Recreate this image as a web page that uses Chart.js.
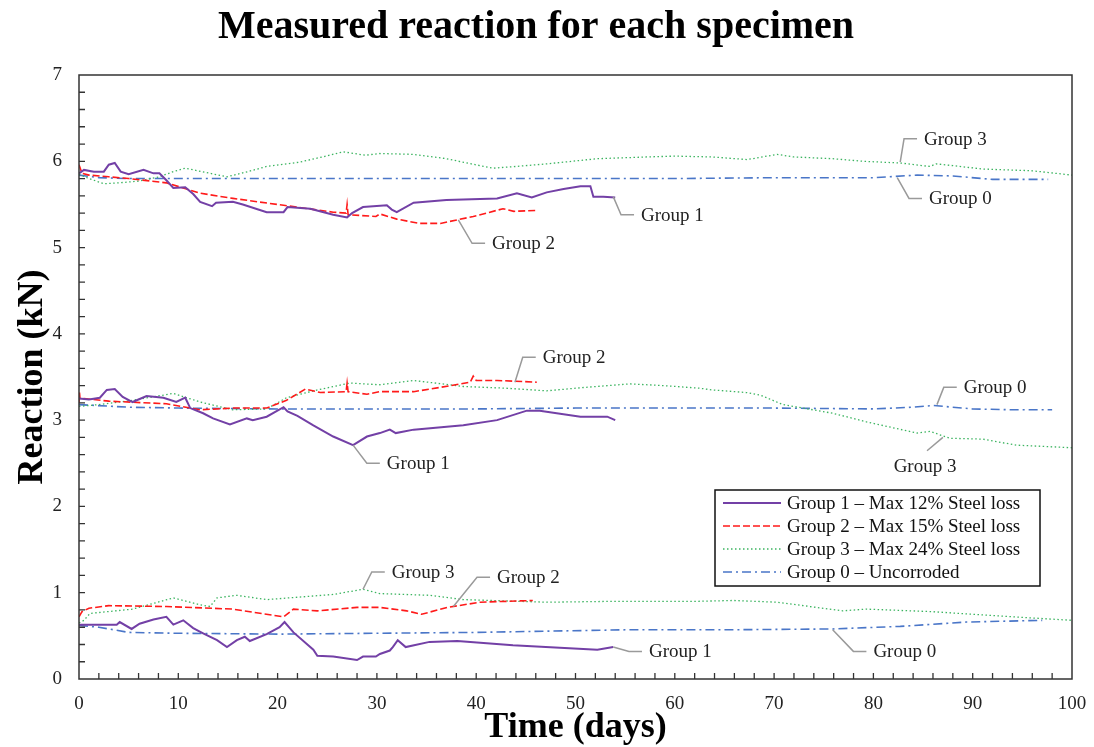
<!DOCTYPE html>
<html>
<head>
<meta charset="utf-8">
<title>Measured reaction for each specimen</title>
<script src="https://cdn.jsdelivr.net/npm/chart.js@4/dist/chart.umd.min.js"></script>
<style>
  html, body { margin: 0; padding: 0; background: #fff; }
  #wrap { width: 1094px; height: 747px; position: relative; }
</style>
</head>
<body>
<div id="wrap"><canvas id="c"></canvas></div>
<script>
/* ---- DATA -------------------------------------------------- */
// upper set (~6 kN)
const g1UpDays = [0, 0.5, 1.5, 2.5, 3, 3.6, 4.2, 5, 6.5, 7.5, 8.1, 8.8, 9.5, 10.7, 11.5, 12.2, 13.4, 13.8, 15.5, 16.5, 18.9, 20.6, 21, 23.3, 25.6, 27, 27.5, 28.6, 31, 31.5, 32, 33.7, 37, 42.1, 44.1, 45.6, 47.1, 48.8, 50.5, 51.5, 51.8, 52.8, 54];
const g1UpKN   = [5.86, 5.9, 5.88, 5.88, 5.96, 5.98, 5.88, 5.85, 5.9, 5.86, 5.86, 5.78, 5.69, 5.70, 5.62, 5.53, 5.48, 5.52, 5.53, 5.50, 5.41, 5.41, 5.47, 5.45, 5.38, 5.35, 5.40, 5.47, 5.49, 5.44, 5.41, 5.52, 5.55, 5.57, 5.63, 5.58, 5.64, 5.68, 5.71, 5.71, 5.59, 5.59, 5.58];
const g2UpDays = [0, 0.3, 1, 3, 5, 8.8, 12.2, 15.5, 20.6, 25.6, 26.9, 27.0, 27.1, 27.3, 29.9, 30.3, 32, 34.3, 36.4, 39.7, 42.7, 43.8, 46];
const g2UpKN   = [5.96, 5.86, 5.84, 5.82, 5.80, 5.75, 5.63, 5.57, 5.49, 5.41, 5.40, 5.50, 5.38, 5.38, 5.36, 5.39, 5.33, 5.28, 5.28, 5.36, 5.45, 5.42, 5.43];
const g3UpDays = [0, 1, 2.5, 4, 6, 8.1, 9.5, 10.7, 12.8, 14.9, 17, 18.9, 22.2, 24.5, 26.6, 28.8, 30.3, 33.7, 37, 39.5, 41.7, 44, 47.1, 52.2, 57.2, 60, 63.8, 67.3, 70.3, 72, 75.9, 79, 82.7, 85.7, 86.3, 88, 91, 96, 100];
const g3UpKN   = [5.85, 5.80, 5.74, 5.75, 5.77, 5.82, 5.88, 5.92, 5.87, 5.82, 5.88, 5.94, 5.99, 6.05, 6.11, 6.07, 6.09, 6.08, 6.03, 5.97, 5.92, 5.94, 5.97, 6.03, 6.05, 6.06, 6.05, 6.02, 6.08, 6.05, 6.03, 6.00, 5.98, 5.94, 5.97, 5.95, 5.91, 5.89, 5.84];
const g0UpDays = [0, 2, 5, 10, 20, 30, 40, 50, 60, 70, 80, 84.4, 88, 92, 97.6];
const g0UpKN   = [5.84, 5.81, 5.80, 5.80, 5.80, 5.80, 5.80, 5.80, 5.80, 5.81, 5.81, 5.84, 5.83, 5.79, 5.79];

// middle set (~3 kN)
const g1MidDays = [0, 1, 2.1, 2.8, 3.6, 4.4, 5.4, 6.8, 8.5, 9.8, 10.7, 11.2, 12.5, 13.5, 15.2, 16.9, 17.5, 18.9, 20.6, 21, 22, 23.6, 25.6, 27.6, 29, 30.3, 31.3, 31.9, 33.7, 38.7, 42.1, 45.1, 46.4, 50.5, 53.2, 54];
const g1MidKN   = [3.25, 3.24, 3.26, 3.35, 3.36, 3.27, 3.21, 3.28, 3.26, 3.21, 3.26, 3.14, 3.08, 3.02, 2.95, 3.02, 3.00, 3.04, 3.15, 3.10, 3.05, 2.94, 2.81, 2.71, 2.81, 2.85, 2.89, 2.85, 2.89, 2.94, 3.00, 3.11, 3.11, 3.04, 3.04, 3.00];
const g2MidDays = [0, 0.05, 0.1, 0.5, 3, 8.8, 12.2, 15.5, 18.9, 20.9, 22.8, 24.3, 26.9, 27, 27.1, 29, 30.3, 33.7, 36.4, 39.4, 39.7, 40, 42.1, 46.1];
const g2MidKN   = [3.20, 3.32, 3.25, 3.25, 3.22, 3.19, 3.12, 3.14, 3.14, 3.23, 3.36, 3.32, 3.33, 3.43, 3.33, 3.30, 3.33, 3.33, 3.38, 3.44, 3.51, 3.46, 3.46, 3.44];
const g3MidDays = [0, 2, 5.4, 9.5, 12.2, 15.5, 18.9, 20.9, 24, 27.3, 30.3, 33.7, 38.7, 43, 47.1, 51, 55.5, 58.9, 62.5, 63.8, 67.2, 68.6, 70.9, 75.9, 79.3, 84.4, 85.7, 87.7, 91, 94.4, 100];
const g3MidKN   = [3.16, 3.18, 3.23, 3.31, 3.21, 3.12, 3.13, 3.26, 3.35, 3.43, 3.41, 3.46, 3.39, 3.37, 3.34, 3.38, 3.42, 3.40, 3.37, 3.35, 3.32, 3.29, 3.18, 3.08, 2.98, 2.85, 2.87, 2.79, 2.78, 2.71, 2.68];
const g0MidDays = [0, 5, 10, 20, 30, 40, 50, 60, 70, 80, 84, 86, 90, 94, 98];
const g0MidKN   = [3.18, 3.15, 3.14, 3.13, 3.13, 3.13, 3.14, 3.14, 3.14, 3.13, 3.15, 3.17, 3.13, 3.12, 3.12];

// lower set (~0.7 kN)
const g1LowDays = [0, 2, 3.8, 4.1, 5.3, 6.1, 7.5, 8.8, 9.5, 10.5, 11.5, 12.5, 13.9, 14.9, 15.9, 16.7, 17.2, 18.9, 20.2, 20.7, 21.6, 23.6, 24, 25.6, 28, 28.6, 29.9, 30.3, 31.3, 31.6, 32.1, 32.9, 35.3, 38.1, 43.7, 52.2, 53.8];
const g1LowKN   = [0.63, 0.63, 0.63, 0.66, 0.58, 0.64, 0.69, 0.72, 0.63, 0.68, 0.59, 0.53, 0.45, 0.37, 0.45, 0.49, 0.44, 0.52, 0.60, 0.66, 0.54, 0.34, 0.27, 0.26, 0.22, 0.26, 0.26, 0.29, 0.33, 0.37, 0.45, 0.37, 0.43, 0.44, 0.39, 0.34, 0.37];
const g2LowDays = [0, 0.3, 1, 3, 8.8, 15.5, 20.6, 21.6, 24, 28, 30.3, 33, 34.5, 37.1, 40.4, 45.7];
const g2LowKN   = [0.72, 0.78, 0.82, 0.85, 0.84, 0.81, 0.72, 0.81, 0.79, 0.83, 0.83, 0.79, 0.75, 0.83, 0.89, 0.91];
const g3LowDays = [0, 0.5, 1.1, 5.4, 9.5, 12.2, 13.2, 13.9, 15.9, 18.9, 25.6, 28.6, 30.3, 35.3, 38.7, 47.1, 53.8, 62.2, 65.9, 70.3, 76.9, 79.3, 86, 92.7, 100];
const g3LowKN   = [0.65, 0.68, 0.76, 0.81, 0.94, 0.86, 0.84, 0.94, 0.97, 0.92, 0.98, 1.04, 0.99, 0.97, 0.92, 0.89, 0.90, 0.90, 0.91, 0.89, 0.79, 0.81, 0.78, 0.73, 0.68];
const g0LowDays = [0, 2, 5, 10, 20, 30, 40, 45, 55, 65, 75.9, 82.7, 89.4, 97];
const g0LowKN   = [0.62, 0.60, 0.54, 0.53, 0.52, 0.53, 0.54, 0.55, 0.57, 0.57, 0.58, 0.61, 0.66, 0.68];

const legendLabels = [
  'Group 1 \u2013 Max 12% Steel loss',
  'Group 2 \u2013 Max 15% Steel loss',
  'Group 3 \u2013 Max 24% Steel loss',
  'Group 0 \u2013 Uncorroded'
];
const xTicks = [0, 10, 20, 30, 40, 50, 60, 70, 80, 90, 100];
const yTicks = [0, 1, 2, 3, 4, 5, 6, 7];

// callouts: label, point on curve, label point (both days / kN)
const callouts = [
  { text: 'Group 3', at: [82.7, 5.99], lbl: [85.1, 6.26], side: 'right' },
  { text: 'Group 0', at: [82.4, 5.81], lbl: [85.6, 5.57], side: 'right' },
  { text: 'Group 1', at: [53.8, 5.59], lbl: [56.6, 5.38], side: 'right' },
  { text: 'Group 2', at: [38.2, 5.32], lbl: [41.6, 5.05], side: 'right' },
  { text: 'Group 2', at: [43.9, 3.44], lbl: [46.7, 3.73], side: 'right' },
  { text: 'Group 1', at: [27.6, 2.71], lbl: [31.0, 2.50], side: 'right' },
  { text: 'Group 0', at: [86.4, 3.18], lbl: [89.1, 3.38], side: 'right' },
  { text: 'Group 3', at: [87.0, 2.80], lbl: [85.2, 2.46], side: 'below' },
  { text: 'Group 3', at: [28.6, 1.04], lbl: [31.5, 1.24], side: 'right' },
  { text: 'Group 2', at: [37.7, 0.84], lbl: [42.1, 1.18], side: 'right' },
  { text: 'Group 1', at: [53.8, 0.37], lbl: [57.4, 0.32], side: 'right' },
  { text: 'Group 0', at: [75.9, 0.57], lbl: [80.0, 0.32], side: 'right' }
];

/* ---- STYLES ------------------------------------------------- */
const SERIF = '"Liberation Serif", "Times New Roman", serif';
const STY = [
  { color: '#7340a6', width: 2,   dash: [] },
  { color: '#ff1a1a', width: 1.6, dash: [7, 3] },
  { color: '#3cb460', width: 1.3, dash: [1.5, 2.5] },
  { color: '#4a76c8', width: 1.6, dash: [9, 4, 2, 4] }
];

function pts(d, v) { return d.map((x, i) => ({ x: x, y: v[i] })); }

const traces = [
  [0, g1UpDays, g1UpKN], [1, g2UpDays, g2UpKN], [2, g3UpDays, g3UpKN], [3, g0UpDays, g0UpKN],
  [0, g1MidDays, g1MidKN], [1, g2MidDays, g2MidKN], [2, g3MidDays, g3MidKN], [3, g0MidDays, g0MidKN],
  [0, g1LowDays, g1LowKN], [1, g2LowDays, g2LowKN], [2, g3LowDays, g3LowKN], [3, g0LowDays, g0LowKN]
];

const datasets = traces.map(([g, d, v]) => ({
  label: legendLabels[g],
  data: pts(d, v),
  borderColor: STY[g].color,
  borderWidth: STY[g].width,
  borderDash: STY[g].dash,
  pointRadius: 0,
  tension: 0,
  fill: false
}));

/* ---- PLUGINS ------------------------------------------------ */
const framePlugin = {
  id: 'frame',
  afterDraw(chart) {
    const { ctx, chartArea: a, scales: { x, y } } = chart;
    ctx.save();
    ctx.strokeStyle = '#333';
    ctx.lineWidth = 1.5;
    ctx.setLineDash([]);
    ctx.strokeRect(a.left, a.top, a.right - a.left, a.bottom - a.top);
    // inward ticks
    ctx.lineWidth = 1.3;
    ctx.beginPath();
    for (let d = 2; d < 100; d += 2) {
      const px = x.getPixelForValue(d);
      ctx.moveTo(px, a.bottom); ctx.lineTo(px, a.bottom - 6);
    }
    for (let k = 1; k < 35; k++) {
      const py = y.getPixelForValue(k / 5);
      ctx.moveTo(a.left, py); ctx.lineTo(a.left + 6, py);
    }
    ctx.stroke();
    ctx.restore();
  }
};

const calloutPlugin = {
  id: 'callouts',
  afterDatasetsDraw(chart) {
    const { ctx, scales: { x, y } } = chart;
    ctx.save();
    ctx.font = '19px ' + SERIF;
    ctx.fillStyle = '#222';
    ctx.strokeStyle = '#9a9a9a';
    ctx.lineWidth = 1.5;
    ctx.setLineDash([]);
    callouts.forEach(c => {
      const ax = x.getPixelForValue(c.at[0]), ay = y.getPixelForValue(c.at[1]);
      const tx = x.getPixelForValue(c.lbl[0]), ty = y.getPixelForValue(c.lbl[1]);
      ctx.beginPath();
      if (c.side === 'below') {
        ctx.moveTo(ax, ay); ctx.lineTo(tx + 2, ty - 16);
        ctx.stroke();
        ctx.textAlign = 'center'; ctx.textBaseline = 'middle';
        ctx.fillText(c.text, tx, ty);
      } else {
        ctx.moveTo(ax, ay); ctx.lineTo(tx - 20, ty); ctx.lineTo(tx - 7, ty);
        ctx.stroke();
        ctx.textAlign = 'left'; ctx.textBaseline = 'middle';
        ctx.fillText(c.text, tx, ty + 1);
      }
    });
    ctx.restore();
  }
};

const legendPlugin = {
  id: 'boxLegend',
  afterDraw(chart) {
    const { ctx, chartArea: a } = chart;
    const bx = a.right - 357, by = a.top + 415, bw = 325, bh = 96;
    ctx.save();
    ctx.fillStyle = '#fff';
    ctx.fillRect(bx, by, bw, bh);
    ctx.strokeStyle = '#111';
    ctx.lineWidth = 1.5;
    ctx.setLineDash([]);
    ctx.strokeRect(bx, by, bw, bh);
    ctx.font = '19px ' + SERIF;
    ctx.textAlign = 'left';
    ctx.textBaseline = 'middle';
    legendLabels.forEach((t, i) => {
      const ry = by + 13 + i * 23;
      ctx.beginPath();
      ctx.strokeStyle = STY[i].color;
      ctx.lineWidth = STY[i].width;
      ctx.setLineDash(STY[i].dash);
      ctx.moveTo(bx + 8, ry); ctx.lineTo(bx + 66, ry);
      ctx.stroke();
      ctx.fillStyle = '#111';
      ctx.fillText(t, bx + 72, ry + 1);
    });
    ctx.restore();
  }
};

/* ---- CHART -------------------------------------------------- */
new Chart(document.getElementById('c'), {
  type: 'line',
  data: { datasets },
  options: {
    responsive: true,
    maintainAspectRatio: false,
    animation: false,
    layout: { padding: { left: 0, right: 22, top: 0, bottom: 0 } },
    plugins: {
      legend: { display: false },
      tooltip: { enabled: false },
      title: {
        display: true,
        text: 'Measured reaction for each specimen',
        color: '#000',
        font: { family: SERIF, size: 40, weight: 'bold', lineHeight: 1 },
        padding: { top: 8, bottom: 27 }
      }
    },
    scales: {
      x: {
        type: 'linear',
        min: 0, max: 100,
        afterFit: s => { s.height = 68; s.paddingLeft = 0; s.paddingRight = 0; },
        afterBuildTicks: s => { s.ticks = xTicks.map(v => ({ value: v })); },
        grid: { display: false, drawTicks: false },
        border: { display: false },
        ticks: { color: '#222', padding: 14, maxRotation: 0, font: { family: SERIF, size: 19 } },
        title: {
          display: true, text: 'Time (days)', color: '#000',
          font: { family: SERIF, size: 36, weight: 'bold', lineHeight: 1 },
          padding: { top: 0, bottom: 1 }
        }
      },
      y: {
        min: 0, max: 7,
        afterFit: s => { s.width = 79; s.paddingTop = 0; s.paddingBottom = 0; },
        afterBuildTicks: s => { s.ticks = yTicks.map(v => ({ value: v })); },
        grid: { display: false, drawTicks: false },
        border: { display: false },
        ticks: { color: '#222', padding: 17, font: { family: SERIF, size: 19 } },
        title: {
          display: true, text: 'Reaction (kN)', color: '#000',
          font: { family: SERIF, size: 36, weight: 'bold', lineHeight: 1 },
          padding: { top: 15, bottom: 0 }
        }
      }
    }
  },
  plugins: [framePlugin, calloutPlugin, legendPlugin]
});
</script>
</body>
</html>
